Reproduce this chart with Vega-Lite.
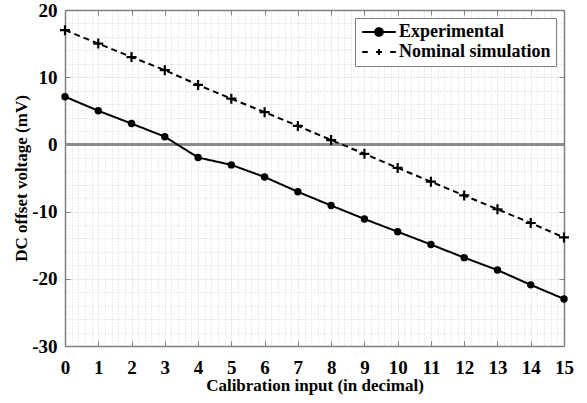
{
  "$schema": "https://vega.github.io/schema/vega-lite/v6.json",
  "width": 499,
  "height": 336,
  "autosize": "none",
  "padding": {"left": 65, "top": 10, "right": 23, "bottom": 57},
  "background": "white",
  "config": {
    "view": {"stroke": null},
    "font": "Liberation Serif",
    "axis": {"labelFont": "Liberation Serif", "titleFont": "Liberation Serif", "labelFontWeight": "bold", "titleFontWeight": "bold", "labelColor": "black", "titleColor": "black"},
    "legend": {"labelFont": "Liberation Serif", "labelFontWeight": "bold"}
  },
  "data": {
    "values": [
      {"x": 0, "y": 7.1, "series": "Experimental"},
      {"x": 1, "y": 5.0, "series": "Experimental"},
      {"x": 2, "y": 3.1, "series": "Experimental"},
      {"x": 3, "y": 1.15, "series": "Experimental"},
      {"x": 4, "y": -1.95, "series": "Experimental"},
      {"x": 5, "y": -3.05, "series": "Experimental"},
      {"x": 6, "y": -4.85, "series": "Experimental"},
      {"x": 7, "y": -7.05, "series": "Experimental"},
      {"x": 8, "y": -9.1, "series": "Experimental"},
      {"x": 9, "y": -11.1, "series": "Experimental"},
      {"x": 10, "y": -13.0, "series": "Experimental"},
      {"x": 11, "y": -14.9, "series": "Experimental"},
      {"x": 12, "y": -16.85, "series": "Experimental"},
      {"x": 13, "y": -18.7, "series": "Experimental"},
      {"x": 14, "y": -20.9, "series": "Experimental"},
      {"x": 15, "y": -23.0, "series": "Experimental"},
      {"x": 0, "y": 17.0, "series": "Nominal simulation"},
      {"x": 1, "y": 15.0, "series": "Nominal simulation"},
      {"x": 2, "y": 13.0, "series": "Nominal simulation"},
      {"x": 3, "y": 11.05, "series": "Nominal simulation"},
      {"x": 4, "y": 8.85, "series": "Nominal simulation"},
      {"x": 5, "y": 6.8, "series": "Nominal simulation"},
      {"x": 6, "y": 4.8, "series": "Nominal simulation"},
      {"x": 7, "y": 2.75, "series": "Nominal simulation"},
      {"x": 8, "y": 0.65, "series": "Nominal simulation"},
      {"x": 9, "y": -1.4, "series": "Nominal simulation"},
      {"x": 10, "y": -3.5, "series": "Nominal simulation"},
      {"x": 11, "y": -5.55, "series": "Nominal simulation"},
      {"x": 12, "y": -7.6, "series": "Nominal simulation"},
      {"x": 13, "y": -9.65, "series": "Nominal simulation"},
      {"x": 14, "y": -11.7, "series": "Nominal simulation"},
      {"x": 15, "y": -13.85, "series": "Nominal simulation"}
    ]
  },
  "resolve": {"axis": {"x": "independent", "y": "independent"}},
  "layer": [
    {
      "mark": {"type": "rule", "color": "#8a8a8a", "strokeWidth": 1.5},
      "encoding": {
        "x": {"datum": 0, "type": "quantitative", "scale": {"domain": [0, 15], "nice": false},
          "axis": {"orient": "bottom", "title": null, "labels": false, "ticks": false, "domain": false, "grid": true, "gridColor": "#d4d4d4", "gridDash": [1, 2], "gridWidth": 1,
            "values": [0.2,0.4,0.6,0.8,1.2,1.4,1.6,1.8,2.2,2.4,2.6,2.8,3.2,3.4,3.6,3.8,4.2,4.4,4.6,4.8,5.2,5.4,5.6,5.8,6.2,6.4,6.6,6.8,7.2,7.4,7.6,7.8,8.2,8.4,8.6,8.8,9.2,9.4,9.6,9.8,10.2,10.4,10.6,10.8,11.2,11.4,11.6,11.8,12.2,12.4,12.6,12.8,13.2,13.4,13.6,13.8,14.2,14.4,14.6,14.8]}},
        "x2": {"datum": 15},
        "y": {"datum": 0, "type": "quantitative", "scale": {"domain": [-30, 20], "nice": false},
          "axis": {"orient": "left", "title": null, "labels": false, "ticks": false, "domain": false, "grid": true, "gridColor": "#d4d4d4", "gridDash": [1, 2], "gridWidth": 1,
            "values": [-28,-26,-24,-22,-18,-16,-14,-12,-8,-6,-4,-2,2,4,6,8,12,14,16,18]}}
      }
    },
    {
      "mark": {"type": "line", "color": "black", "strokeWidth": 2},
      "encoding": {
        "x": {"field": "x", "type": "quantitative", "scale": {"domain": [0, 15], "nice": false},
          "axis": {"orient": "bottom", "title": "Calibration input (in decimal)", "titleFontSize": 17, "titlePadding": 0, "values": [0,1,2,3,4,5,6,7,8,9,10,11,12,13,14,15], "labelFontSize": 19, "labelPadding": 17, "labelFlush": false, "labelOverlap": false, "tickSize": -5, "tickColor": "#808080", "domainColor": "#808080", "domainWidth": 1.5, "grid": true, "gridColor": "#c8c8c8", "gridDash": [1, 2], "gridWidth": 1}},
        "y": {"field": "y", "type": "quantitative", "scale": {"domain": [-30, 20], "nice": false},
          "axis": {"orient": "left", "title": "DC offset voltage (mV)", "titleFontSize": 17, "titlePadding": 1, "values": [-30,-20,-10,0,10,20], "labelFontSize": 19, "labelPadding": 13, "labelFlush": false, "labelExpr": "replace(datum.label, '\u2212', '-')", "tickSize": -5, "tickColor": "#808080", "domainColor": "#808080", "domainWidth": 1.5, "grid": true, "gridColor": "#c8c8c8", "gridDash": [1, 2], "gridWidth": 1}},
        "strokeDash": {"field": "series", "type": "nominal", "title": null,
          "scale": {"domain": ["Experimental", "Nominal simulation"], "range": [[1, 0], [6, 4]]},
          "legend": {"orient": "top-right", "offset": 8, "fillColor": "white", "strokeColor": "#808080", "padding": 5, "rowPadding": 2,
            "labelFontSize": 18, "labelColor": "black", "labelOffset": 11, "symbolSize": 196, "symbolOffset": 10, "symbolStrokeWidth": 2, "symbolStrokeColor": "black",
            "encode": {"symbols": {"update": {
              "shape": {"signal": "datum.value === 'Experimental' ? 'M-2.4,0H2.4M-0.55,0A0.55,0.55 0 1,0 0.55,0A0.55,0.55 0 1,0 -0.55,0Z' : 'M-2.4,0H-1.6M-0.42,0H0.42M0,-0.42V0.42M1.6,0H2.4'"},
              "strokeDash": {"value": [1, 0]},
              "fill": {"value": "black"}, "stroke": {"value": "black"}, "strokeWidth": {"value": 2}, "opacity": {"value": 1}}}}}}
      }
    },
    {
      "transform": [{"filter": "datum.series === 'Experimental'"}],
      "mark": {"type": "point", "shape": "circle", "filled": true, "color": "black", "opacity": 1, "size": 55},
      "encoding": {
        "x": {"field": "x", "type": "quantitative", "scale": {"domain": [0, 15], "nice": false},
          "axis": {"orient": "top", "title": null, "labels": false, "values": [0,1,2,3,4,5,6,7,8,9,10,11,12,13,14,15], "tickSize": -5, "tickColor": "#808080", "domainColor": "#808080", "domainWidth": 1.5, "grid": false}},
        "y": {"field": "y", "type": "quantitative", "scale": {"domain": [-30, 20], "nice": false},
          "axis": {"orient": "right", "title": null, "labels": false, "values": [-30,-20,-10,0,10,20], "tickSize": -5, "tickColor": "#808080", "domainColor": "#808080", "domainWidth": 1.5, "grid": false}}
      }
    },
    {
      "transform": [{"filter": "datum.series === 'Nominal simulation'"}],
      "mark": {"type": "point", "shape": "M-1.35,0H1.35M0,-1.35V1.35", "filled": false, "stroke": "black", "strokeWidth": 2.2, "opacity": 1, "size": 55},
      "encoding": {
        "x": {"field": "x", "type": "quantitative", "scale": {"domain": [0, 15], "nice": false}, "axis": null},
        "y": {"field": "y", "type": "quantitative", "scale": {"domain": [-30, 20], "nice": false}, "axis": null}
      }
    }
  ]
}
